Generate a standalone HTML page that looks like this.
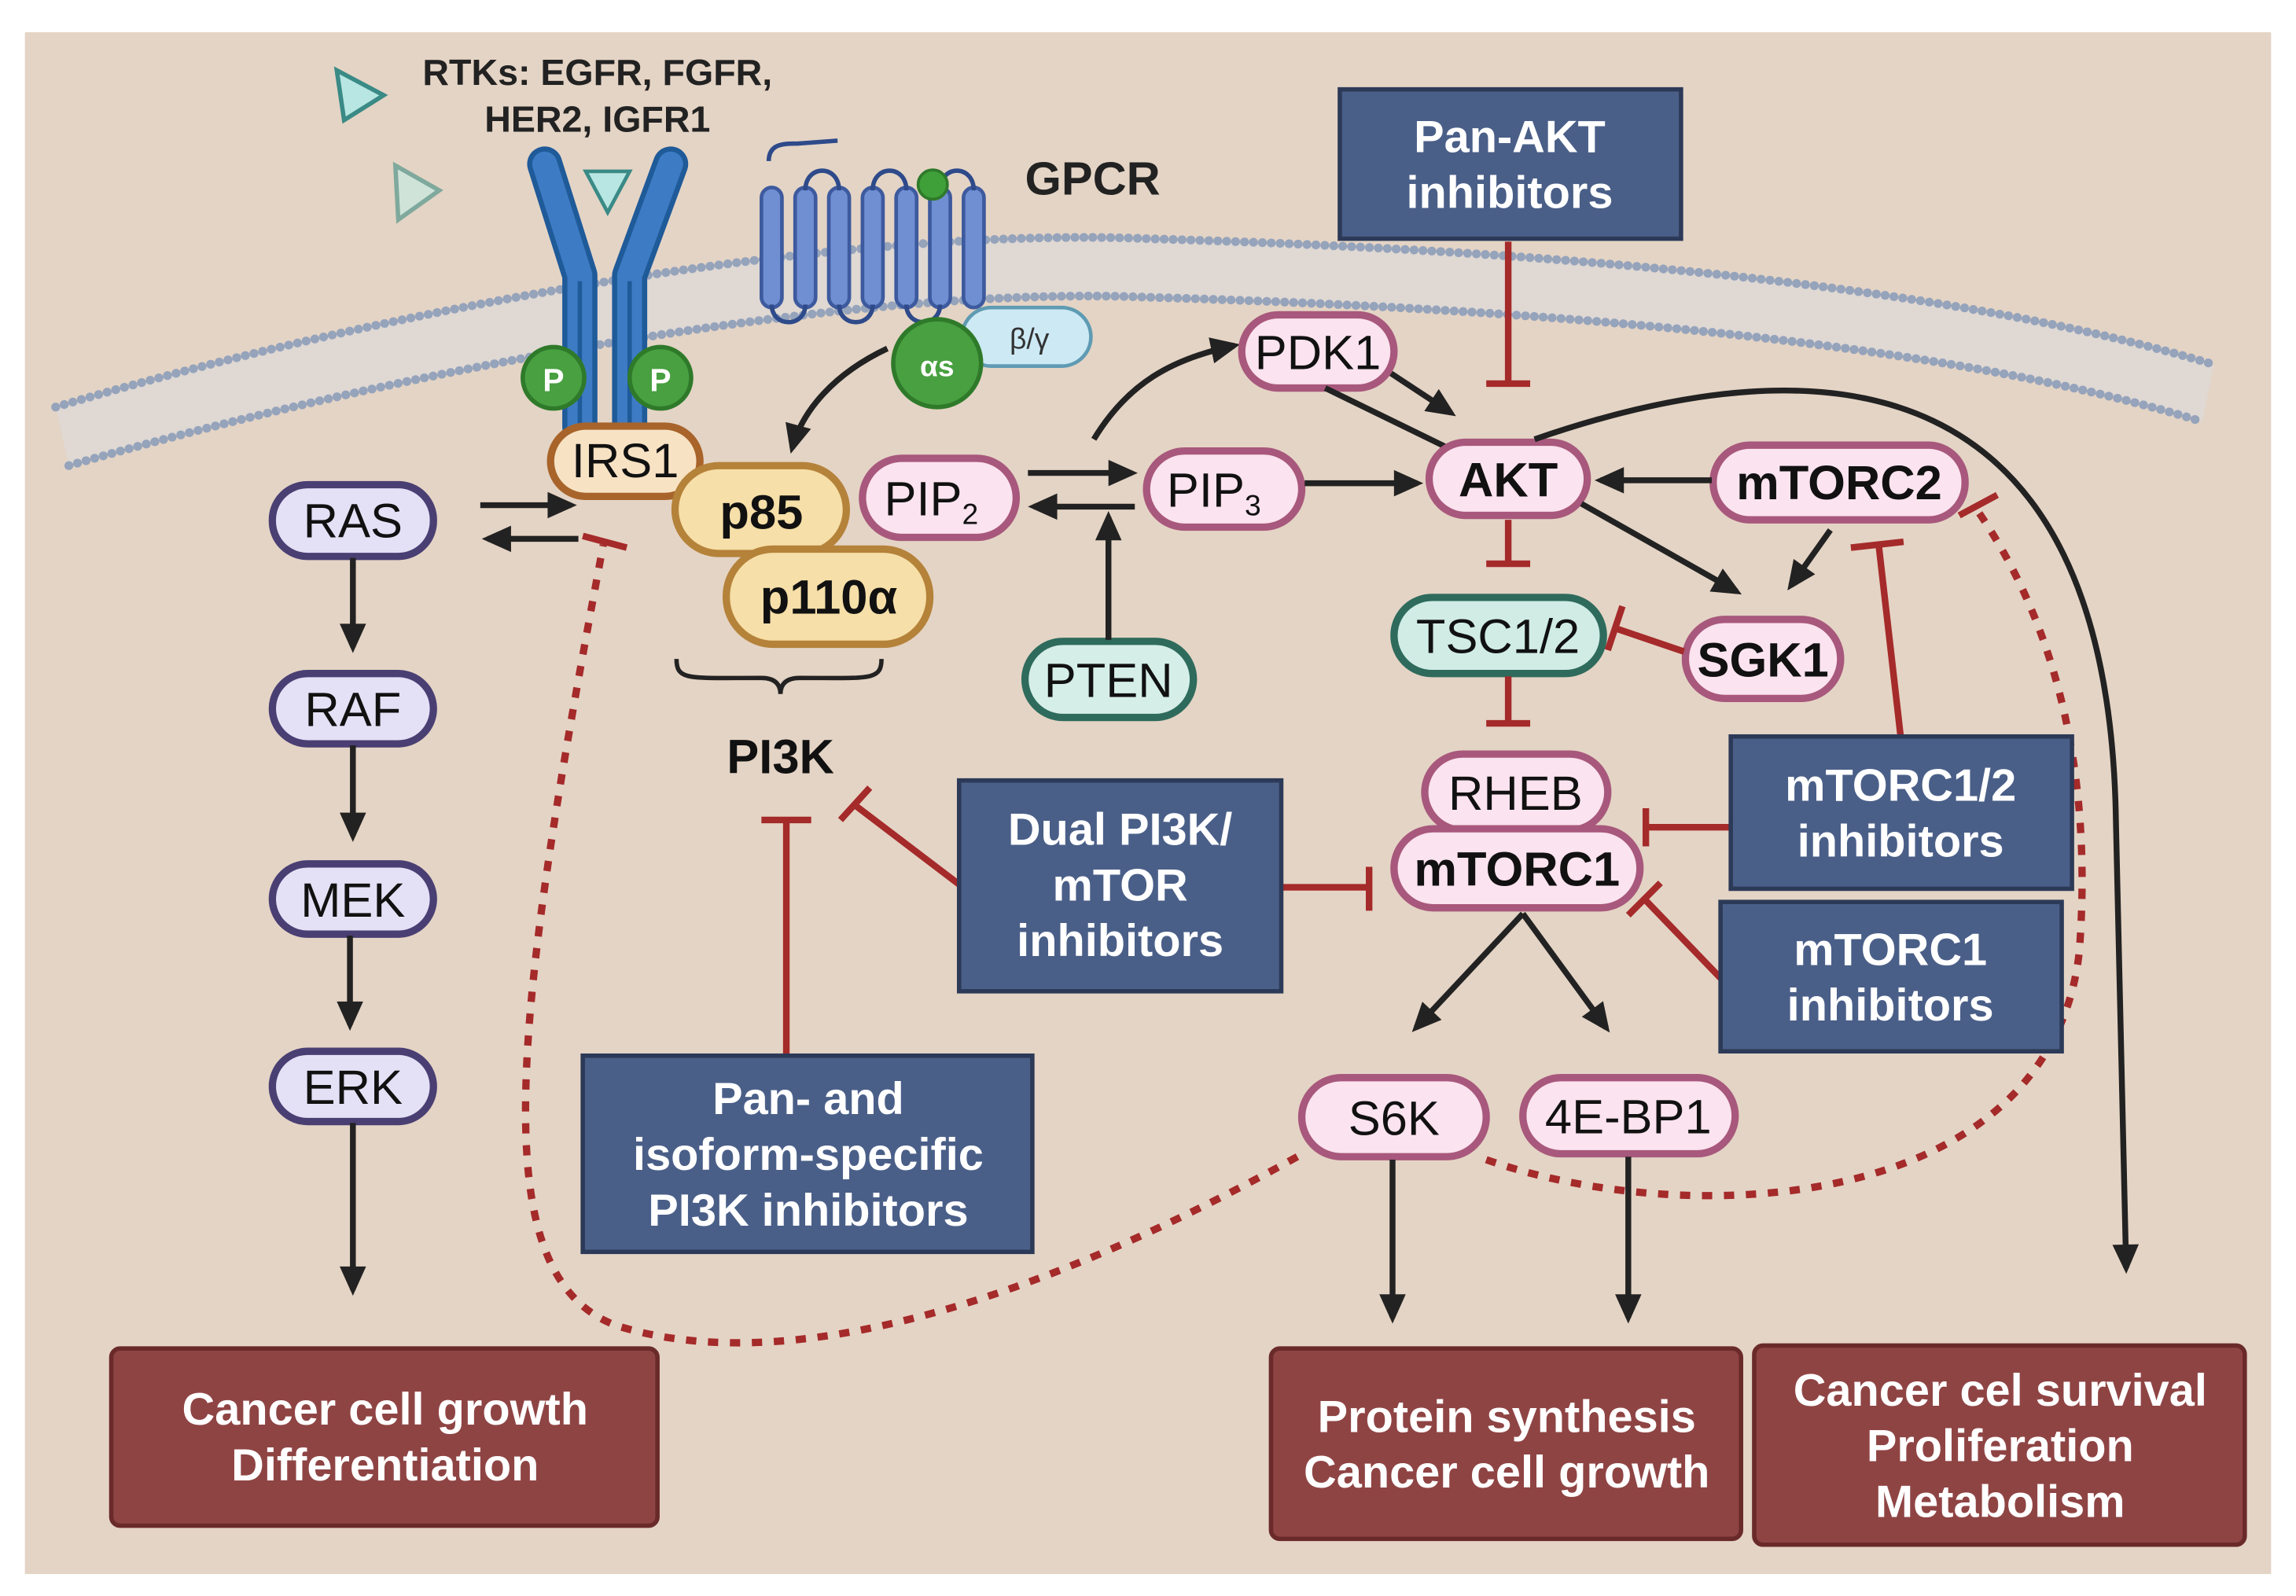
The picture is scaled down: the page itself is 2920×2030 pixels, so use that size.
<!DOCTYPE html>
<html><head><meta charset="utf-8"><style>
html,body{margin:0;padding:0;background:#fff;}
svg{display:block}
text{font-family:"Liberation Sans Narrow","Liberation Sans",sans-serif;}
.n{font-size:33px;fill:#111;text-anchor:middle;}
.b{font-weight:bold;}
.w{font-size:31px;fill:#fff;font-weight:bold;text-anchor:middle;}
.ar{stroke:#222;stroke-width:4;fill:none;}
.inh{stroke:#a52a2a;stroke-width:4.5;fill:none;}
</style></head><body>
<svg width="2920" height="2030" viewBox="0 0 1568 1090" xmlns="http://www.w3.org/2000/svg">
<defs>
<marker id="a" refX="0" refY="0" markerWidth="30" markerHeight="30" orient="auto" markerUnits="userSpaceOnUse" style="overflow:visible">
<path d="M-16,-9 L4,0 L-16,9 Z" fill="#222"/>
</marker>
</defs>
<rect x="0" y="0" width="1568" height="1090" fill="#fff"/>
<rect x="17" y="22" width="1534" height="1053" fill="#e4d4c5"/>

<!-- membrane -->
<path d="M38,278 C300,200 600,155 784,163 C1100,172 1350,200 1512,249 L1504,288 C1350,240 1100,212 784,203 C600,195 300,245 47,318 Z" fill="#ddd8d6" opacity="0.8"/>
<path d="M38,278 C300,200 600,155 784,163 C1100,172 1350,200 1512,249" stroke="#95a3bb" stroke-width="6" stroke-dasharray="0.1 6" stroke-linecap="round" fill="none"/>
<path d="M47,318 C300,245 600,195 784,203 C1100,212 1350,240 1504,288" stroke="#95a3bb" stroke-width="6" stroke-dasharray="0.1 6" stroke-linecap="round" fill="none"/>

<!-- ligands -->
<polygon points="230,48 262,65 235,82" fill="#b8e6e2" stroke="#3a8a86" stroke-width="3"/>
<polygon points="270,113 300,130 272,150" fill="#cfe3d9" stroke="#7fa99c" stroke-width="3"/>
<text x="408" y="58" font-size="25" font-weight="bold" text-anchor="middle" fill="#222">RTKs: EGFR, FGFR,</text>
<text x="408" y="90" font-size="25" font-weight="bold" text-anchor="middle" fill="#222">HER2, IGFR1</text>

<!-- RTK receptor -->
<path d="M372,112 L396,188 L396,292" stroke="#1f5a99" stroke-width="24" stroke-linecap="round" stroke-linejoin="round" fill="none"/>
<path d="M458,112 L430,188 L430,292" stroke="#1f5a99" stroke-width="24" stroke-linecap="round" stroke-linejoin="round" fill="none"/>
<path d="M372,112 L396,188 L396,292" stroke="#3d7cc4" stroke-width="17" stroke-linecap="round" stroke-linejoin="round" fill="none"/>
<path d="M458,112 L430,188 L430,292" stroke="#3d7cc4" stroke-width="17" stroke-linecap="round" stroke-linejoin="round" fill="none"/>
<path d="M396,192 V292 M430,192 V292" stroke="#1f5a99" stroke-width="3"/>
<polygon points="400,117 430,117 415,145" fill="#b8e6e2" stroke="#3a8a86" stroke-width="2.5"/>
<circle cx="378" cy="258" r="21" fill="#48a040" stroke="#2f7a2a" stroke-width="3"/>
<circle cx="451" cy="258" r="21" fill="#48a040" stroke="#2f7a2a" stroke-width="3"/>
<text x="378" y="267" font-size="22" font-weight="bold" fill="#fff" text-anchor="middle">P</text>
<text x="451" y="267" font-size="22" font-weight="bold" fill="#fff" text-anchor="middle">P</text>

<!-- GPCR -->
<path d="M525,110 C525,98 535,98 545,98 L572,96" stroke="#2e4a8a" stroke-width="3" fill="none"/>
<g fill="#6f8fd2" stroke="#3e5a9e" stroke-width="2.5">
<rect x="520" y="128" width="14" height="82" rx="7"/>
<rect x="543" y="128" width="14" height="82" rx="7"/>
<rect x="566" y="128" width="14" height="82" rx="7"/>
<rect x="589" y="128" width="14" height="82" rx="7"/>
<rect x="612" y="128" width="14" height="82" rx="7"/>
<rect x="635" y="128" width="14" height="82" rx="7"/>
<rect x="658" y="128" width="14" height="82" rx="7"/>
</g>
<g stroke="#2e4a8a" stroke-width="3" fill="none">
<path d="M550,130 C550,112 573,112 573,130"/>
<path d="M596,130 C596,112 619,112 619,130"/>
<path d="M642,130 C642,112 665,112 665,130"/>
<path d="M527,208 C527,224 550,224 550,208"/>
<path d="M573,208 C573,224 596,224 596,208"/>
<path d="M619,208 C619,224 642,224 642,208"/>
</g>
<circle cx="637" cy="126" r="10" fill="#3fa03a" stroke="#2f7a2a" stroke-width="2"/>
<text x="700" y="133" font-size="32" font-weight="bold" fill="#222">GPCR</text>
<rect x="657" y="210" width="88" height="40" rx="20" fill="#cde9f4" stroke="#5f9bb3" stroke-width="2.5"/>
<text x="703" y="238" font-size="20" fill="#333" text-anchor="middle">β/γ</text>
<circle cx="640" cy="248" r="30" fill="#48a040" stroke="#2f7a2a" stroke-width="3"/>
<text x="640" y="257" font-size="20" font-weight="bold" fill="#fff" text-anchor="middle">αs</text>
<path class="ar" d="M606,238 C570,255 548,280 541,306" marker-end="url(#a)"/>

<!-- RAS pathway -->
<g fill="#e4e1f6" stroke="#4a3f73" stroke-width="5">
<rect x="186" y="331" width="110" height="49" rx="24"/>
<rect x="186" y="460" width="110" height="48" rx="24"/>
<rect x="186" y="590" width="110" height="48" rx="24"/>
<rect x="186" y="718" width="110" height="48" rx="24"/>
</g>
<text class="n" x="241" y="367">RAS</text>
<text class="n" x="241" y="496">RAF</text>
<text class="n" x="241" y="626">MEK</text>
<text class="n" x="241" y="754">ERK</text>
<path class="ar" d="M241,381 V442" marker-end="url(#a)"/>
<path class="ar" d="M241,509 V571" marker-end="url(#a)"/>
<path class="ar" d="M239,639 V700" marker-end="url(#a)"/>
<path class="ar" d="M241,767 V881" marker-end="url(#a)"/>
<path class="ar" d="M328,345 H390" marker-end="url(#a)"/>
<path class="ar" d="M395,368 H333" marker-end="url(#a)"/>

<!-- dashed feedback -->
<path d="M886,790 C760,860 560,950 420,905 C330,870 350,700 412,372" stroke="#a52a2a" stroke-width="5" stroke-dasharray="7 8" fill="none"/>
<path class="inh" d="M398,366 L428,374"/>
<path d="M1015,792 C1150,840 1400,830 1420,650 C1430,520 1400,420 1350,348" stroke="#a52a2a" stroke-width="5" stroke-dasharray="7 8" fill="none"/>
<path class="inh" d="M1338,352 L1364,338"/>

<!-- PI3K -->
<rect x="376" y="291" width="102" height="48" rx="24" fill="#f7e2c4" stroke="#a8642a" stroke-width="5"/>
<text class="n" x="427" y="326">IRS1</text>
<rect x="461" y="318" width="117" height="60" rx="30" fill="#f6dfa8" stroke="#b5823a" stroke-width="5"/>
<text class="n b" x="520" y="361" font-size="34">p85</text>
<rect x="496" y="375" width="139" height="65" rx="32" fill="#f6dfa8" stroke="#b5823a" stroke-width="5"/>
<text class="n b" x="566" y="419" font-size="34">p110α</text>
<path d="M462,450 C462,465 470,463 520,463 C530,463 533,468 533,474 C533,468 536,463 546,463 C594,463 602,465 602,450" stroke="#222" stroke-width="3" fill="none"/>
<text class="n b" x="533" y="528" font-size="33">PI3K</text>

<!-- PIP -->
<rect x="589" y="313" width="105" height="54" rx="27" fill="#fbe3ef" stroke="#a8587c" stroke-width="5"/>
<text class="n" x="636" y="352">PIP<tspan font-size="20" dy="6">2</tspan></text>
<rect x="783" y="308" width="106" height="52" rx="26" fill="#fbe3ef" stroke="#a8587c" stroke-width="5"/>
<text class="n" x="829" y="346">PIP<tspan font-size="20" dy="6">3</tspan></text>
<path class="ar" d="M702,323 H773" marker-end="url(#a)"/>
<path class="ar" d="M775,346 H706" marker-end="url(#a)"/>
<rect x="700" y="438" width="115" height="52" rx="26" fill="#d6eee8" stroke="#2e6b5c" stroke-width="5"/>
<text class="n" x="757" y="476">PTEN</text>
<path class="ar" d="M757,437 V353" marker-end="url(#a)"/>
<path class="ar" d="M747,300 C770,262 800,245 843,236" marker-end="url(#a)"/>

<!-- AKT cluster -->
<rect x="848" y="215" width="104" height="50" rx="25" fill="#fbe3ef" stroke="#a8587c" stroke-width="5"/>
<text class="n" x="900" y="252">PDK1</text>
<path class="ar" d="M950,255 L991,282" marker-end="url(#a)"/>
<path class="ar" d="M905,265 L987,305"/>
<path class="ar" d="M891,330 H968" marker-end="url(#a)"/>
<rect x="976" y="302" width="108" height="50" rx="25" fill="#fbe3ef" stroke="#a8587c" stroke-width="5"/>
<text class="n b" x="1030" y="339">AKT</text>
<rect x="1170" y="304" width="172" height="51" rx="25" fill="#fbe3ef" stroke="#a8587c" stroke-width="5"/>
<text class="n b" x="1256" y="341">mTORC2</text>
<path class="ar" d="M1169,328 H1093" marker-end="url(#a)"/>
<path class="ar" d="M1080,344 L1186,404" marker-end="url(#a)"/>
<path class="ar" d="M1250,362 L1223,400" marker-end="url(#a)"/>
<rect x="1151" y="423" width="106" height="54" rx="27" fill="#fbe3ef" stroke="#a8587c" stroke-width="5"/>
<text class="n b" x="1204" y="462">SGK1</text>
<rect x="952" y="408" width="143" height="52" rx="26" fill="#d0ece5" stroke="#2e6b5c" stroke-width="5"/>
<text class="n" x="1023" y="446">TSC1/2</text>
<path class="inh" d="M1030,165 V262 M1015,262 H1045"/>
<path class="inh" d="M1030,355 V385 M1015,385 H1045"/>
<path class="inh" d="M1030,462 V494 M1015,494 H1045"/>
<path class="inh" d="M1150,445 L1103,429 M1108,414 L1098,444"/>

<!-- mTORC1 -->
<rect x="973" y="515" width="125" height="52" rx="26" fill="#fbe3ef" stroke="#a8587c" stroke-width="5"/>
<text class="n" x="1035" y="553">RHEB</text>
<rect x="952" y="566" width="168" height="54" rx="27" fill="#fbe3ef" stroke="#a8587c" stroke-width="5"/>
<text class="n b" x="1036" y="605">mTORC1</text>
<path class="ar" d="M1040,624 L967,702" marker-end="url(#a)"/>
<path class="ar" d="M1040,624 L1097,702" marker-end="url(#a)"/>
<rect x="889" y="736" width="126" height="54" rx="27" fill="#fbe3ef" stroke="#a8587c" stroke-width="5"/>
<text class="n" x="952" y="775">S6K</text>
<rect x="1040" y="736" width="145" height="52" rx="26" fill="#fbe3ef" stroke="#a8587c" stroke-width="5"/>
<text class="n" x="1112" y="774">4E-BP1</text>
<path class="ar" d="M951,792 V900" marker-end="url(#a)"/>
<path class="ar" d="M1112,790 V900" marker-end="url(#a)"/>

<!-- AKT big curve -->
<path class="ar" d="M1048,300 C1250,230 1440,250 1445,560 L1452,866" marker-end="url(#a)"/>

<!-- inhibitor lines -->
<path class="inh" d="M655,604 L584,550 M574,560 L594,538"/>
<path class="inh" d="M876,606 H935 M935,592 V622"/>
<path class="inh" d="M537,720 V560 M520,560 H554"/>
<path class="inh" d="M1182,565 H1124 M1124,552 V578"/>
<path class="inh" d="M1298,503 L1283,372 M1264,374 L1300,370"/>
<path class="inh" d="M1175,668 L1123,614 M1112,625 L1134,603"/>

<!-- blue boxes -->
<g fill="#4a5f88" stroke="#2c3a58" stroke-width="3">
<rect x="915" y="61" width="233" height="102"/>
<rect x="655" y="533" width="220" height="144"/>
<rect x="398" y="721" width="307" height="134"/>
<rect x="1182" y="503" width="233" height="104"/>
<rect x="1175" y="616" width="233" height="102"/>
</g>
<text class="w" x="1031" y="104">Pan-AKT</text>
<text class="w" x="1031" y="142">inhibitors</text>
<text class="w" x="765" y="577">Dual PI3K/</text>
<text class="w" x="765" y="615">mTOR</text>
<text class="w" x="765" y="653">inhibitors</text>
<text class="w" x="552" y="761">Pan- and</text>
<text class="w" x="552" y="799">isoform-specific</text>
<text class="w" x="552" y="837">PI3K inhibitors</text>
<text class="w" x="1298" y="547">mTORC1/2</text>
<text class="w" x="1298" y="585">inhibitors</text>
<text class="w" x="1291" y="659">mTORC1</text>
<text class="w" x="1291" y="697">inhibitors</text>

<!-- outcome boxes -->
<g fill="#8f4444" stroke="#6a2a2a" stroke-width="3">
<rect x="76" y="921" width="373" height="121" rx="6"/>
<rect x="868" y="921" width="321" height="130" rx="6"/>
<rect x="1198" y="919" width="335" height="136" rx="6"/>
</g>
<text class="w" x="263" y="973">Cancer cell growth</text>
<text class="w" x="263" y="1011">Differentiation</text>
<text class="w" x="1029" y="978">Protein synthesis</text>
<text class="w" x="1029" y="1016">Cancer cell growth</text>
<text class="w" x="1366" y="960">Cancer cel survival</text>
<text class="w" x="1366" y="998">Proliferation</text>
<text class="w" x="1366" y="1036">Metabolism</text>
</svg>
</body></html>
